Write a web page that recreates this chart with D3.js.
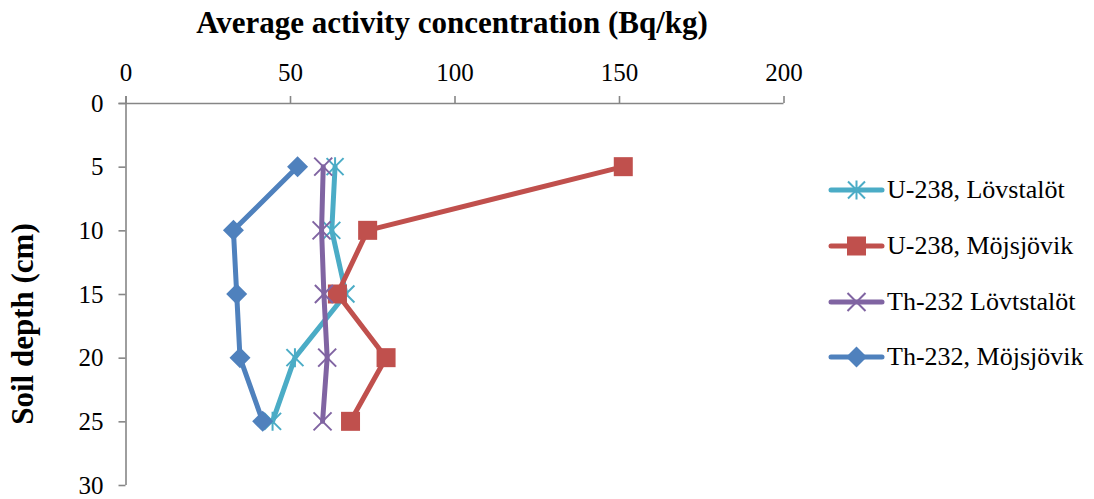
<!DOCTYPE html>
<html>
<head>
<meta charset="utf-8">
<script src="https://cdn.jsdelivr.net/npm/d3@7"></script>
<style>
  html, body { margin: 0; padding: 0; background: #fff; }
  svg { display: block; }
  text { font-family: "Liberation Serif", "Times New Roman", serif; fill: #000; }
</style>
</head>
<body>
<svg id="chart" width="1094" height="499"></svg>
<script>
// Soil depths (cm) at which samples were taken
const depths = [5, 10, 15, 20, 25];

// Average activity concentration (Bq/kg) per series
const u238Lovstalot = [63.7, 62.7, 67.0, 51.5, 44.7];
const u238Mojsjovik = [151.3, 73.6, 64.4, 79.2, 68.4];
const th232Lovtstalot = [60.1, 59.6, 60.3, 61.3, 59.9];
const th232Mojsjovik = [52.3, 32.8, 33.8, 34.8, 41.7];

const seriesNames = ["U-238, Lövstalöt", "U-238, Möjsjövik", "Th-232 Lövtstalöt", "Th-232, Möjsjövik"];
const xTicks = [0, 50, 100, 150, 200];
const yTicks = [0, 5, 10, 15, 20, 25, 30];

const series = [
  { name: seriesNames[0], values: u238Lovstalot, color: "#4BACC6", marker: "asterisk" },
  { name: seriesNames[1], values: u238Mojsjovik, color: "#C0504D", marker: "square" },
  { name: seriesNames[2], values: th232Lovtstalot, color: "#8064A2", marker: "cross" },
  { name: seriesNames[3], values: th232Mojsjovik, color: "#4F81BD", marker: "diamond" }
];

const svg = d3.select("#chart");
const x = d3.scaleLinear().domain([0, 200]).range([125.5, 783.5]);
const y = d3.scaleLinear().domain([0, 30]).range([103, 485]);
const axisColor = "#868686";

// Top x axis (ticks point up)
const xAxis = svg.append("g").attr("transform", `translate(0,${y(0)})`)
  .call(d3.axisTop(x).tickValues(xTicks).tickSize(7).tickPadding(15).tickFormat(d3.format("d")));
xAxis.select(".domain").attr("d", `M${x(0) - 7},0.5H${x(200)}`);

// Left y axis (ticks point left), depth increasing downwards
const yAxis = svg.append("g").attr("transform", `translate(${x(0)},0)`)
  .call(d3.axisLeft(y).tickValues(yTicks).tickSize(7).tickPadding(15));
yAxis.select(".domain").attr("d", `M0.5,${y(0) - 7}V${y(30)}`);

[xAxis, yAxis].forEach(g => {
  g.selectAll(".domain").attr("stroke", axisColor).attr("stroke-width", 1.6).attr("fill", "none");
  g.selectAll(".tick line").attr("stroke", axisColor).attr("stroke-width", 1.6);
  g.selectAll(".tick text").style("font-family", "'Liberation Serif', serif").attr("font-size", 25).attr("fill", "#000");
});

// Axis titles
svg.append("text").attr("x", 452).attr("y", 33).attr("text-anchor", "middle")
  .attr("font-size", 31).attr("font-weight", "bold")
  .text("Average activity concentration (Bq/kg)");
svg.append("text").attr("transform", "translate(33,324) rotate(-90)").attr("text-anchor", "middle")
  .attr("font-size", 31).attr("font-weight", "bold")
  .text("Soil depth (cm)");

// Marker drawing
function drawMarker(g, type, color, cx, cy) {
  if (type === "square") {
    g.append("rect").attr("x", cx - 9.5).attr("y", cy - 9.5).attr("width", 19).attr("height", 19)
      .attr("fill", color);
  } else if (type === "diamond") {
    const r = 10.5;
    g.append("path").attr("d", `M${cx},${cy - r}L${cx + r},${cy}L${cx},${cy + r}L${cx - r},${cy}Z`)
      .attr("fill", color);
  } else if (type === "cross") {
    const r = 9;
    g.append("path").attr("d", `M${cx - r},${cy - r}L${cx + r},${cy + r}M${cx - r},${cy + r}L${cx + r},${cy - r}`)
      .attr("stroke", color).attr("stroke-width", 2).attr("fill", "none");
  } else if (type === "asterisk") {
    const r = 8.5;
    g.append("path").attr("d", `M${cx - r},${cy - r}L${cx + r},${cy + r}M${cx - r},${cy + r}L${cx + r},${cy - r}M${cx},${cy - r - 1}V${cy + r + 1}`)
      .attr("stroke", color).attr("stroke-width", 2).attr("fill", "none");
  }
}

const line = d3.line().x(d => x(d.v)).y(d => y(d.depth));

// Draw series in order so later series sit on top
series.forEach(s => {
  const pts = s.values.map((v, i) => ({ v, depth: depths[i] }));
  const g = svg.append("g");
  g.append("path").datum(pts).attr("d", line)
    .attr("fill", "none").attr("stroke", s.color).attr("stroke-width", 5)
    .attr("stroke-linejoin", "round").attr("stroke-linecap", "round");
  pts.forEach(p => drawMarker(g, s.marker, s.color, x(p.v), y(p.depth)));
});

// Legend
const legendY = [190, 246, 302, 357];
series.forEach((s, i) => {
  const g = svg.append("g");
  const ly = legendY[i];
  g.append("line").attr("x1", 831).attr("x2", 882).attr("y1", ly).attr("y2", ly)
    .attr("stroke", s.color).attr("stroke-width", 5).attr("stroke-linecap", "round");
  drawMarker(g, s.marker, s.color, 856.5, ly);
  g.append("text").attr("x", 887).attr("y", ly + 8).attr("font-size", 26).text(s.name);
});
</script>
</body>
</html>
